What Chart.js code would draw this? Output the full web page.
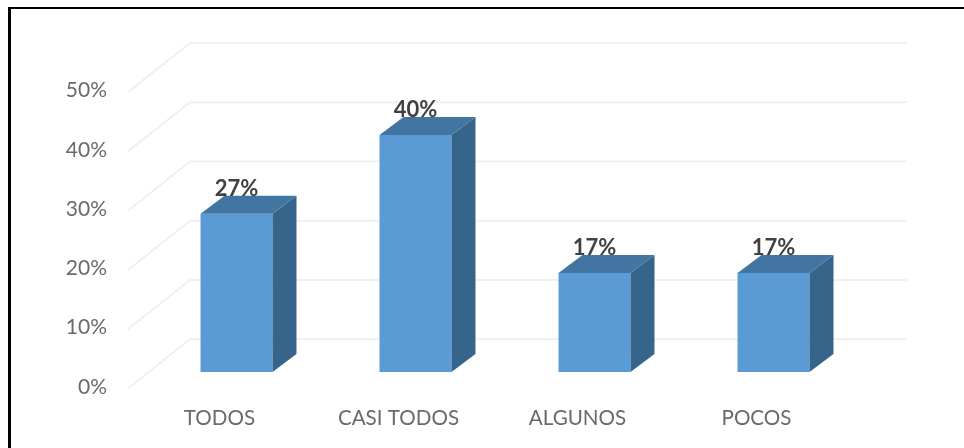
<!DOCTYPE html>
<html>
<head>
<meta charset="utf-8">
<style>
html,body{margin:0;padding:0;background:#fff;overflow:hidden}
#wrap{position:relative;width:964px;height:448px}
#frame{position:absolute;left:8px;top:7px;right:-5px;bottom:-5px;border-left:3px solid #000;border-top:2px solid #000;box-sizing:border-box;pointer-events:none}
canvas{position:absolute;left:0;top:0}
</style>
<script src="https://cdn.jsdelivr.net/npm/chart.js@4"></script>
</head>
<body>
<div id="wrap"><canvas id="c" width="964" height="448"></canvas><div id="frame"></div></div>
<script>
const categories = ['TODOS', 'CASI TODOS', 'ALGUNOS', 'POCOS'];
const seriesValues = [26.7, 40, 16.7, 16.7];
const yTicks = [0, 10, 20, 30, 40, 50];

const FONT = 'Lato, "Noto Sans", sans-serif';
const BAR_SHIFT = {x: 17, y: -15};   // bars stand part-way back on the floor
const BAR_DEPTH = {x: 24, y: -18};
const WALL_SHIFT = {x: 60, y: -47.7};

const depthPlugin = {
  id: 'depth',
  beforeDatasetsDraw(chart) {
    const ctx = chart.ctx, yS = chart.scales.y;
    const {left, right} = chart.chartArea;
    ctx.save();
    ctx.strokeStyle = '#f0f0f0';
    ctx.lineWidth = 2;
    yTicks.forEach(t => {
      const y = yS.getPixelForValue(t);
      ctx.beginPath();
      ctx.moveTo(left - 2, y + 1.5);
      ctx.lineTo(left + WALL_SHIFT.x, y + WALL_SHIFT.y);
      ctx.lineTo(right + WALL_SHIFT.x + 1, y + WALL_SHIFT.y);
      ctx.stroke();
    });
    ctx.restore();
    ctx.save();
    ctx.translate(BAR_SHIFT.x, BAR_SHIFT.y);
  },
  afterDatasetsDraw(chart) {
    const ctx = chart.ctx;
    const meta = chart.getDatasetMeta(0);
    const dx = BAR_DEPTH.x, dy = BAR_DEPTH.y;
    meta.data.forEach((bar, i) => {
      const p = bar.getProps(['x', 'y', 'base', 'width'], true);
      const l = p.x - p.width / 2, r = p.x + p.width / 2;
      ctx.fillStyle = '#37648b';
      ctx.beginPath();
      ctx.moveTo(r, p.y); ctx.lineTo(r + dx, p.y + dy);
      ctx.lineTo(r + dx, p.base + dy); ctx.lineTo(r, p.base);
      ctx.closePath(); ctx.fill();
      ctx.fillStyle = '#4375a3';
      ctx.beginPath();
      ctx.moveTo(l, p.y); ctx.lineTo(l + dx, p.y + dy);
      ctx.lineTo(r + dx, p.y + dy); ctx.lineTo(r, p.y);
      ctx.closePath(); ctx.fill();
    });
    ctx.fillStyle = '#404040';
    ctx.font = 'bold 22px ' + FONT;
    ctx.textAlign = 'center';
    ctx.textBaseline = 'middle';
    meta.data.forEach((bar, i) => {
      const p = bar.getProps(['x', 'y'], true);
      ctx.fillText(Math.round(seriesValues[i]) + '%', p.x, p.y - 25);
    });
    ctx.restore();
  }
};

new Chart(document.getElementById('c'), {
  type: 'bar',
  data: {
    labels: categories,
    datasets: [{
      data: seriesValues,
      backgroundColor: '#5b9bd5',
      borderWidth: 0,
      categoryPercentage: 0.402,
      barPercentage: 1,
      clip: false
    }]
  },
  options: {
    responsive: false,
    animation: false,
    layout: {padding: {left: 0, top: 90.6, right: 118, bottom: 0}},
    plugins: {legend: {display: false}, tooltip: {enabled: false}, title: {display: false}},
    scales: {
      x: {
        grid: {display: false, drawTicks: false},
        border: {display: false},
        afterFit(s) { s.height = 61; },
        ticks: {color: '#6a6a6a', font: {family: FONT, size: 20.6}, padding: 19, maxRotation: 0, autoSkip: false}
      },
      y: {
        min: 0, max: 50,
        grid: {display: false, drawTicks: false},
        border: {display: false},
        afterFit(s) { s.width = 130; },
        ticks: {
          stepSize: 10,
          color: '#6a6a6a',
          font: {family: FONT, size: 21},
          padding: 23,
          callback: v => v + '%'
        }
      }
    }
  },
  plugins: [depthPlugin]
});
</script>
</body>
</html>
